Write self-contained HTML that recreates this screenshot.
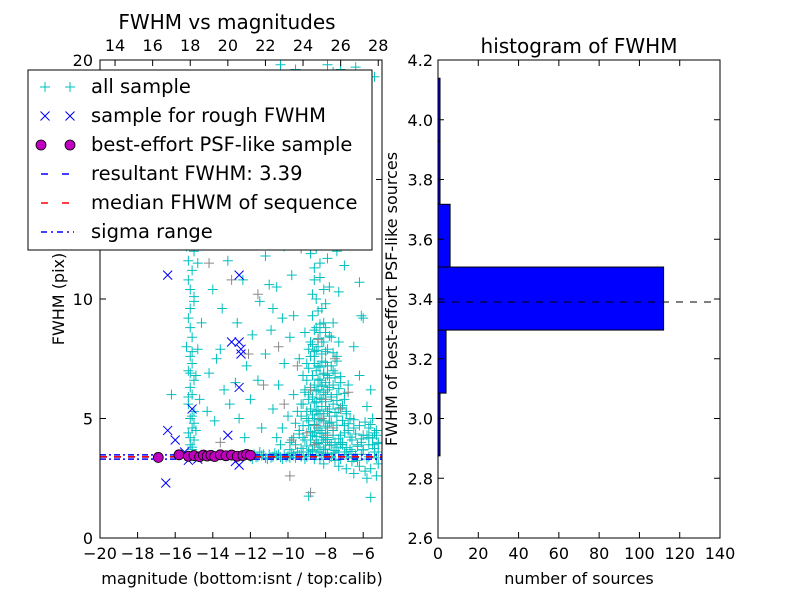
<!DOCTYPE html>
<html><head><meta charset="utf-8">
<style>
html,body{margin:0;padding:0;background:#fff;}
svg{display:block;font-family:"DejaVu Sans","Liberation Sans",sans-serif;}
</style></head>
<body>
<svg id="chart" width="800" height="600" xmlns="http://www.w3.org/2000/svg">
<rect width="800" height="600" fill="#fff"/>
</svg>
<script>
// ---------- data ----------
const allSample = [
[-12,3.4],[-11.8,3.5],[-11.6,3.4],[-11.4,3.45],[-11.2,3.35],[-11,3.5],[-10.8,3.4],[-10.6,3.45],[-10.4,3.38],[-10.2,3.5],[-10,3.42],[-9.8,3.55],[-9.6,3.36],[-9.4,3.48],[-9.2,3.6],[-9,3.4],[-8.8,3.5],[-8.6,3.3],[-8.4,3.6],[-8.2,3.45],[-8,3.7],[-7.8,3.35],[-7.6,3.55],[-7.4,3.8],[-7.2,3.3],[-7,3.6],[-6.8,3.4],[-6.6,3.2],[-6.4,3.5],[-6.2,3.0],[-6,3.7],[-5.8,3.3],[-5.6,2.9],[-5.4,3.6],[-5.2,3.1],[-11.9,3.3],[-11.5,3.6],[-11.1,3.3],[-10.7,3.55],[-10.3,3.3],[-9.9,3.35],[-9.5,3.6],[-9.1,3.3],[-8.7,3.7],[-8.3,3.3],[-7.9,3.5],[-7.5,3.25],[-7.1,3.9],[-6.7,3.7],[-6.3,3.25],[-5.9,2.8],[-5.5,3.9],[-5.3,2.6],[-6.5,2.7],[-7.3,3.0],[-8.1,3.1],[-6.1,4.0],[-5.7,4.2],[-5.4,4.4],[-5.2,4.0],[-6.9,2.9],[-5.8,2.5],[-5.6,1.7],[-8.9,1.75],
[-8.5,4],[-8.2,4.1],[-7.9,4.2],[-8.7,4.3],[-8.0,4.4],[-7.6,4.5],[-8.4,4.6],[-8.9,4.7],[-7.8,4.8],[-8.1,4.9],[-8.6,5],[-7.4,5.1],[-8.3,5.2],[-7.9,5.3],[-8.8,5.4],[-8.0,5.5],[-7.6,5.6],[-8.5,5.7],[-8.2,5.8],[-7.7,5.9],[-8.9,6],[-8.1,6.1],[-8.4,6.2],[-7.8,6.3],[-8.6,6.4],[-8.0,6.5],[-8.3,6.6],[-7.5,6.7],[-8.7,6.8],[-8.1,6.9],[-8.5,7],[-7.9,7.2],[-8.2,7.4],[-8.6,7.6],[-8.0,7.8],[-8.4,8],[-8.8,8.2],[-7.7,8.4],[-8.3,8.6],[-8.5,8.8],[-8.1,9],[-9.2,4.2],[-9.4,4.5],[-9.0,5.0],[-9.3,5.6],[-9.1,6.2],[-7.2,4.3],[-7.0,4.7],[-7.3,5.4],[-7.1,4.0],[-6.8,4.5],[-6.6,4.1],[-6.9,5.2],[-7.5,4.0],[-8.6,3.9],[-8.3,3.8],[-7.7,3.9],[-8.0,4.0],[-8.8,4.1],[-9.6,4.8],[-9.8,4.1],[-9.5,5.3],[-7.4,6.0],[-7.2,6.5],[-7.6,7.0],[-9.0,7.3],[-9.2,6.8],[-8.9,7.9],[-7.4,7.6],[-8.4,5.0],[-8.2,5.5],[-8.6,4.4],[-7.9,4.6],[-8.1,4.2],[-8.3,4.5],[-7.8,5.1],[-8.5,5.3],[-8.7,5.9],[-8.0,6.0],[-8.2,6.4],[-7.9,6.8],[-8.4,7.2],[-8.6,7.8],[-8.2,8.2],[-8.0,8.8],[-7.6,9.0],[-7.3,8.2],[-9.1,8.6],[-9.4,7.5],[-6.5,4.6],[-6.3,3.9],[-6.0,4.3],[-5.7,4.6],[-6.7,5.0],[-7.0,5.8],[-6.8,6.4],[-9.7,6.0],[-10.0,5.1],[-10.3,4.6],[-10.6,4.2],[-10.4,3.9],[-9.9,4.0],
[-8.4,9.5],[-8.0,9.8],[-8.7,10.2],[-7.8,10.5],[-8.3,10.9],[-8.6,11.3],[-7.9,11.7],[-8.5,12.1],[-8.2,12.5],[-8.9,12.9],[-8.1,13.3],[-8.4,13.8],[-8.7,14.2],[-9.0,14.6],[-8.6,15],[-8.9,15.5],[-9.2,16],[-8.8,16.4],[-9.4,17],[-9.0,17.5],[-8.6,18.2],[-9.3,18.8],[-8.3,19.2],[-7.9,19.8],[-7.6,19.5],[-9.6,19.6],[-10.4,19.8],[-10.9,19.3],[-7.2,19.6],[-6.4,19.7],[-5.4,19.3],[-9.8,11],[-10.2,12.2],[-10.6,10.5],[-11.2,11.8],[-9.5,13.5],[-7.3,10.3],[-7.0,11.4],[-6.6,12.6],[-6.0,9.2],[-6.9,13.6],[-7.5,14.8],[-10.8,9.6],[-9.9,15.8],[-10.5,17],[-11.5,14.2],[-11.0,16.4],[-7.8,16.8],[-7.1,17.9],[-9.7,9.3],[-7.4,12.0],[-6.2,10.7],[-11.8,18.4],[-12.3,17.2],[-13.0,15.8],[-12.6,13.4],[-11.6,12.9],[-10.1,13.9],[-8.0,13.0],[-7.6,15.6],
[-15.1,3.7],[-15.2,3.9],[-15.0,4.1],[-15.3,4.4],[-15.1,4.6],[-15.2,5.0],[-15.0,5.3],[-15.3,5.6],[-15.1,6.0],[-15.2,6.3],[-15.0,6.6],[-15.3,7.0],[-15.1,7.3],[-15.2,7.6],[-15.4,8.0],[-15.1,8.4],[-15.3,9.2],[-15.2,9.6],[-15.0,10.1],[-15.3,10.8],[-15.1,11.2],[-14.8,11.5],[-14.9,6.8],[-14.8,7.9],[-14.7,5.8],[-15.0,4.8],[-14.6,9.0],[-15.4,12.2],[-15.2,12.8],[-14.9,13.5],
[-14.2,6.9],[-13.8,7.5],[-13.5,9.6],[-14.0,10.4],[-13.2,11.6],[-12.9,12.3],[-13.6,7.9],[-12.8,6.5],[-12.2,7.2],[-11.9,8.5],[-11.5,9.9],[-12.4,10.8],[-13.1,5.6],[-12.6,5.0],[-12.0,5.8],[-11.6,6.6],[-11.2,7.7],[-10.9,8.7],[-10.5,6.4],[-10.8,5.4],[-11.4,4.6],[-12.3,4.2],[-13.9,4.9],[-14.3,5.3],[-13.4,6.2],[-10.2,7.3],[-9.9,8.4],[-10.3,9.2],[-11.0,10.6],[-12.7,9.0],[-16.2,6.0],
[-5.5,5.0],[-5.3,4.3],[-5.8,5.5],[-6.2,6.8],[-5.6,6.2],[-6.5,8.0],[-6.1,9.3],[-5.2,3.6]
];
const denseCluster = [
[-9.9,3.7],[-9.6,3.9],[-9.3,3.75],[-9.0,3.85],[-8.7,3.65],[-8.4,3.95],[-8.1,3.72],[-7.8,3.88],[-7.5,3.66],[-7.2,3.92],[-6.9,3.78],[-6.6,3.62],[-6.3,3.84],[-6.0,3.68],[-5.7,3.9],[-5.4,3.74],[-5.2,3.95],
[-9.7,4.2],[-9.4,4.35],[-9.1,4.1],[-8.8,4.45],[-8.5,4.25],[-8.2,4.38],[-7.9,4.12],[-7.6,4.3],[-7.3,4.15],[-7.0,4.4],[-6.7,4.22],[-6.4,4.35],[-6.1,4.15],[-5.8,4.3],[-5.5,4.18],[-5.3,4.5],
[-9.2,4.7],[-8.9,4.9],[-8.6,4.75],[-8.3,4.95],[-8.0,4.68],[-7.7,4.85],[-7.4,4.72],[-7.1,4.92],[-6.8,4.78],[-6.5,4.95],[-6.2,4.7],[-5.9,4.85],[-5.6,4.75],
[-9.3,5.1],[-9.0,5.3],[-8.7,5.15],[-8.4,5.35],[-8.1,5.2],[-7.8,5.4],[-7.5,5.25],[-7.2,5.45],[-6.9,5.3],
[-9.2,5.6],[-8.9,5.8],[-8.6,5.65],[-8.3,5.85],[-8.0,5.7],[-7.7,5.9],[-7.4,5.75],[-7.1,5.55],
[-9.1,6.1],[-8.8,6.3],[-8.5,6.15],[-8.2,6.35],[-7.9,6.2],[-7.6,6.4],[-7.3,6.25],[-7.0,6.05],
[-9.0,6.6],[-8.7,6.8],[-8.4,6.65],[-8.1,6.85],[-7.8,6.7],[-7.5,6.9],[-7.2,6.75],
[-8.9,7.1],[-8.6,7.3],[-8.3,7.15],[-8.0,7.35],[-7.7,7.2],[-7.4,7.4],
[-8.8,7.6],[-8.5,7.85],[-8.2,7.7],[-7.9,7.9],[-7.6,7.75],
[-8.7,8.1],[-8.4,8.35],[-8.1,8.2],[-7.8,8.45],
[-8.6,8.7],[-8.3,8.95],[-8.0,8.6],[-8.7,9.3],[-8.2,9.6],[-8.5,10.0],[-8.1,10.4],[-8.6,10.8],[-8.3,11.5],[-8.8,11.9],[-8.4,12.4],[-8.7,13.1],
[-11.9,3.45],[-11.7,3.38],[-11.3,3.5],[-10.9,3.36],[-10.5,3.5],[-10.1,3.38],[-9.7,3.45],[-9.3,3.4],[-8.9,3.6],[-8.5,3.45],[-8.1,3.55],[-7.7,3.4],[-7.3,3.6],[-6.9,3.5],[-6.5,3.35],[-6.1,3.5],[-5.7,3.4],[-5.3,3.35],
[-15.2,4.2],[-15.1,5.1],[-15.3,5.9],[-15.2,6.9],[-15.1,7.8],[-15.2,8.8],[-15.0,9.9],[-15.2,10.4],[-15.1,3.8],[-14.9,4.5],[-15.0,12.0],[-15.3,11.6]
];
const graySample = [[-14.2,11.5],[-13.0,10.8],[-11.6,10.2],[-10.5,8.0],[-9.5,7.2],[-8.8,6.2],[-8.2,5.0],[-7.6,4.6],[-9.0,4.4],[-10.2,5.6],[-11.3,6.4],[-12.1,7.7],[-8.4,8.3],[-7.2,5.4],[-9.8,4.1],[-8.6,3.9],[-7.9,4.3],[-10.6,13.3],[-9.3,12.1],[-12.8,14.4],[-8.8,1.9],[-9.9,2.6],[-8.0,5.8],[-7.5,7.5],[-13.6,4.0],[-6.8,6.1],[-9.4,15.2],[-11.0,18.3],[-7.0,12.6],[-8.5,4.7]];
const roughSample = [[-16.4,11],[-12.6,11],[-13,8.2],[-12.6,8.2],[-12.5,7.9],[-12.5,7.7],[-12.6,6.3],[-15.1,5.4],[-16.4,4.5],[-16,4.1],[-13.2,4.3],[-15.5,3.6],[-16.5,2.3],[-12.6,3.05],[-12.8,3.2],[-14.8,3.3],[-15.3,3.25]];
const psfMag = [-16.9,-15.8,-15.3,-15,-14.7,-14.5,-14.3,-14.1,-13.9,-13.6,-13.3,-13,-12.7,-12.4,-12.2,-12.0];
const psfFwhm = [3.37,3.48,3.42,3.45,3.4,3.47,3.43,3.46,3.41,3.48,3.44,3.47,3.42,3.45,3.5,3.46];
const resultFwhm = 3.39, medianFwhm = 3.40, sigmaLow = 3.30, sigmaHigh = 3.48;
const histEdges = [2.875,3.085,3.296,3.507,3.717,3.928,4.139];
const histCounts = [1,4,112,6,1,1];
const xTicksL = [-20,-18,-16,-14,-12,-10,-8,-6];
const xTicksTop = [14,16,18,20,22,24,26,28];
const yTicksL = [0,5,10,15,20];
const yTicksR = [2.6,2.8,3.0,3.2,3.4,3.6,3.8,4.0,4.2];
const xTicksR = [0,20,40,60,80,100,120,140];
const calibOffset = 33.2;

// ---------- helpers ----------
const NS="http://www.w3.org/2000/svg";
const svg=document.getElementById('chart');
function el(tag,attrs,parent){const e=document.createElementNS(NS,tag);for(const k in attrs)e.setAttribute(k,attrs[k]);(parent||svg).appendChild(e);return e;}
function txt(s,x,y,size,anchor,parent){const t=el('text',{x:x,y:y,'font-size':size,'text-anchor':anchor||'middle',fill:'#000'},parent);t.textContent=s;return t;}
function fmt(v){return (v<0?'\u2212':'')+Math.abs(v);}

const L={x0:100,x1:382,y0:60,y1:538,xmin:-20,xmax:-5,ymin:0,ymax:20};
const R={x0:438,x1:720,y0:60,y1:538,xmin:0,xmax:140,ymin:2.6,ymax:4.2};
const lx=m=>L.x0+(m-L.xmin)/(L.xmax-L.xmin)*(L.x1-L.x0);
const ly=f=>L.y1-(f-L.ymin)/(L.ymax-L.ymin)*(L.y1-L.y0);
const rx=c=>R.x0+(c-R.xmin)/(R.xmax-R.xmin)*(R.x1-R.x0);
const ry=f=>R.y1-(f-R.ymin)/(R.ymax-R.ymin)*(R.y1-R.y0);

// ---------- left panel ----------
const clip=el('clipPath',{id:'clipL'});el('rect',{x:L.x0,y:L.y0,width:L.x1-L.x0,height:L.y1-L.y0},clip);
const gL=el('g',{'clip-path':'url(#clipL)'});



function plus(x,y,c,g,name){const p=el('path',{d:`M${x-5} ${y}H${x+5}M${x} ${y-5}V${y+5}`,stroke:c,'stroke-width':1,fill:'none'},g);

}
const gAll=el('g',{},gL);


allSample.forEach(p=>plus(lx(p[0]),ly(p[1]),'#00bfbf',gAll,'all-sample-point'));
denseCluster.forEach(p=>plus(lx(p[0]),ly(p[1]),'#00bfbf',gAll,'all-sample-point'));
const gGray=el('g',{},gL);


graySample.forEach(p=>plus(lx(p[0]),ly(p[1]),'#8a8a8a',gGray,'gray-sample-point'));
const gRough=el('g',{},gL);


roughSample.forEach(p=>{const x=lx(p[0]),y=ly(p[1]);
const m=el('path',{d:`M${x-4.5} ${y-4.5}L${x+4.5} ${y+4.5}M${x-4.5} ${y+4.5}L${x+4.5} ${y-4.5}`,stroke:'#0000ff','stroke-width':1,fill:'none'},gRough);

});
function hline(v,color,dash,name){const l=el('line',{x1:L.x0,x2:L.x1,y1:ly(v),y2:ly(v),stroke:color,'stroke-width':1.5,'stroke-dasharray':dash},gL);

}
hline(sigmaLow,'#0000ff','6 3 2 3','sigma-low-line');
hline(sigmaHigh,'#0000ff','6 3 2 3','sigma-high-line');
hline(resultFwhm,'#0000ff','7 7','resultant-fwhm-line');
hline(medianFwhm,'#ff0000','7 7','median-fwhm-line');
const gPsf=el('g',{},gL);


psfMag.forEach((m,i)=>{const c=el('circle',{cx:lx(m),cy:ly(psfFwhm[i]),r:5,fill:'#bf00bf',stroke:'#000','stroke-width':0.8},gPsf);

});

const frameL=el('rect',{x:L.x0,y:L.y0,width:L.x1-L.x0,height:L.y1-L.y0,fill:'none',stroke:'#000','stroke-width':1});


const gAxL=el('g',{});


xTicksL.forEach(v=>{const x=lx(v);el('line',{x1:x,x2:x,y1:L.y1,y2:L.y1-6,stroke:'#000'},gAxL);txt(fmt(v),x,559,16,'middle',gAxL);});
xTicksTop.forEach(v=>{const x=lx(v-calibOffset);el('line',{x1:x,x2:x,y1:L.y0,y2:L.y0+6,stroke:'#000'},gAxL);txt(String(v),x,51,16,'middle',gAxL);});
yTicksL.forEach(v=>{const y=ly(v);el('line',{x1:L.x0,x2:L.x0+6,y1:y,y2:y,stroke:'#000'},gAxL);el('line',{x1:L.x1,x2:L.x1-6,y1:y,y2:y,stroke:'#000'},gAxL);txt(String(v),93,y+6,16,'end',gAxL);});
const tL=txt('FWHM vs magnitudes',227,29,20);


const xlL=txt('magnitude (bottom:isnt / top:calib)',242,584,16);


const ylL=txt('FWHM (pix)',0,0,16);ylL.setAttribute('transform','translate(64,299) rotate(-90)');



// legend
const gLeg=el('g',{});


el('rect',{x:28,y:70,width:344,height:180,fill:'#fff',stroke:'#000','stroke-width':1},gLeg);
const legLabels=['all sample','sample for rough FWHM','best-effort PSF-like sample','resultant FWHM: 3.39','median FHWM of sequence','sigma range'];
legLabels.forEach((s,i)=>{const y=87+i*29;
if(i===0){plus(45,y,'#00bfbf',gLeg,'legend-marker');plus(70,y,'#00bfbf',gLeg,'legend-marker');}
if(i===1){[45,70].forEach(x=>el('path',{d:`M${x-4.5} ${y-4.5}L${x+4.5} ${y+4.5}M${x-4.5} ${y+4.5}L${x+4.5} ${y-4.5}`,stroke:'#0000ff',fill:'none'},gLeg));}
if(i===2){[41,70].forEach(x=>el('circle',{cx:x,cy:y,r:5,fill:'#bf00bf',stroke:'#000','stroke-width':0.8},gLeg));}
if(i===3)el('line',{x1:41,x2:74,y1:y,y2:y,stroke:'#0000ff','stroke-width':1.5,'stroke-dasharray':'7 14'},gLeg);
if(i===4)el('line',{x1:41,x2:74,y1:y,y2:y,stroke:'#ff0000','stroke-width':1.5,'stroke-dasharray':'7 14'},gLeg);
if(i===5)el('line',{x1:41,x2:74,y1:y,y2:y,stroke:'#0000ff','stroke-width':1.5,'stroke-dasharray':'6 4 2 4'},gLeg);
const t=txt(s,91,y+6,19.5,'start',gLeg);

});

// ---------- right panel ----------
const gH=el('g',{});


histCounts.forEach((c,i)=>{const yTop=ry(histEdges[i+1]),yBot=ry(histEdges[i]);
const b=el('rect',{x:rx(0),y:yTop,width:Math.max(rx(c)-rx(0),0),height:yBot-yTop,fill:'#0000ff',stroke:'#000','stroke-width':1},gH);

});
const hl=el('line',{x1:R.x0,x2:rx(136),y1:ry(resultFwhm),y2:ry(resultFwhm),stroke:'#000','stroke-width':1,'stroke-dasharray':'7 7'});


const frameR=el('rect',{x:R.x0,y:R.y0,width:R.x1-R.x0,height:R.y1-R.y0,fill:'none',stroke:'#000','stroke-width':1});


const gAxR=el('g',{});


xTicksR.forEach(v=>{const x=rx(v);el('line',{x1:x,x2:x,y1:R.y1,y2:R.y1-6,stroke:'#000'},gAxR);el('line',{x1:x,x2:x,y1:R.y0,y2:R.y0+6,stroke:'#000'},gAxR);txt(String(v),x,559,16,'middle',gAxR);});
yTicksR.forEach(v=>{const y=ry(v);el('line',{x1:R.x0,x2:R.x0+6,y1:y,y2:y,stroke:'#000'},gAxR);el('line',{x1:R.x1,x2:R.x1-6,y1:y,y2:y,stroke:'#000'},gAxR);txt(v.toFixed(1),433,y+6,16,'end',gAxR);});
const tR=txt('histogram of FWHM',579,53,20);


const xlR=txt('number of sources',579,584,16);


const ylR=txt('FWHM of best-effort PSF-like sources',0,0,16);ylR.setAttribute('transform','translate(397,299) rotate(-90)');


</script>
</body></html>
